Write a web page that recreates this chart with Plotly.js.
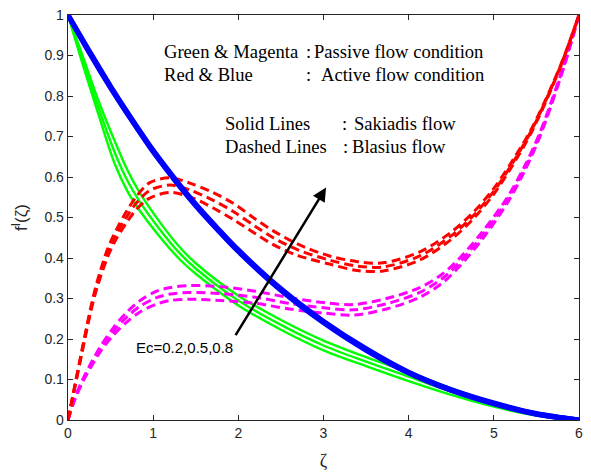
<!DOCTYPE html>
<html>
<head>
<meta charset="utf-8">
<script src="https://cdn.plot.ly/plotly-3.0.1.min.js"></script>
<style>html,body{margin:0;padding:0;background:#fff;}#chart{width:591px;height:473px;}</style>
</head>
<body>
<div id="chart"></div>
<script>
// ---- data ----
const zetaGreen = [0,0.17,0.36,0.55,0.7,0.84,1.08,1.31,1.5,2.0,2.5,3.0,3.5,4.0,4.5,5.0,5.5,6.0];
const green1 = [1,0.88,0.753,0.632,0.564,0.518,0.452,0.397,0.361,0.283,0.223,0.172,0.133,0.096,0.062,0.033,0.011,0];
const green2 = [1,0.89,0.77,0.66,0.59,0.54,0.47,0.412,0.374,0.295,0.235,0.184,0.144,0.107,0.07,0.038,0.013,0];
const green3 = [1,0.9,0.787,0.688,0.616,0.562,0.488,0.427,0.387,0.307,0.247,0.196,0.155,0.118,0.078,0.043,0.015,0];

const zetaBlue = [0,0.25,0.5,0.75,1,1.25,1.5,1.75,2,2.5,3,3.5,4,4.5,5,5.5,6];
const blue1 = [1,0.907,0.82,0.739,0.662,0.593,0.529,0.471,0.416,0.32,0.24,0.172,0.116,0.073,0.04,0.014,0];
const blue2 = [1,0.909,0.822,0.741,0.664,0.595,0.531,0.473,0.418,0.322,0.242,0.174,0.117,0.074,0.041,0.015,0];
const blue3 = [1,0.911,0.824,0.743,0.666,0.597,0.533,0.475,0.42,0.324,0.244,0.176,0.118,0.075,0.042,0.016,0];

const zetaRed = [0,0.056,0.194,0.27,0.34,0.47,0.566,0.684,0.8,0.96,1.2,1.43,1.7,1.94,2.2,2.41,2.7,3.07,3.4,3.7,4.13,4.5,4.76,5.0,5.23,5.46,5.78,6];
const red1 = [0,0.056,0.196,0.27,0.326,0.405,0.447,0.486,0.519,0.548,0.562,0.551,0.524,0.495,0.46,0.433,0.406,0.385,0.369,0.368,0.395,0.446,0.497,0.558,0.632,0.718,0.87,1];
const red2 = [0,0.058,0.2,0.275,0.333,0.415,0.458,0.5,0.535,0.567,0.58,0.568,0.543,0.515,0.478,0.45,0.42,0.395,0.38,0.378,0.405,0.455,0.505,0.565,0.638,0.722,0.872,1];
const red3 = [0,0.06,0.204,0.28,0.34,0.425,0.469,0.514,0.551,0.586,0.598,0.585,0.562,0.535,0.496,0.467,0.434,0.405,0.391,0.388,0.415,0.464,0.513,0.572,0.644,0.726,0.874,1];

const zetaMag = [0,0.076,0.17,0.29,0.39,0.53,0.68,0.84,1.04,1.2,1.43,1.8,2.2,2.6,3.0,3.35,3.74,4.13,4.4,4.6,4.87,5.15,5.36,5.54,5.81,6];
const mag1 = [0,0.048,0.093,0.138,0.172,0.209,0.24,0.266,0.286,0.295,0.298,0.295,0.288,0.274,0.264,0.259,0.274,0.303,0.339,0.38,0.448,0.533,0.614,0.699,0.863,1];
const mag2 = [0,0.05,0.096,0.143,0.178,0.218,0.252,0.28,0.302,0.311,0.315,0.312,0.303,0.288,0.277,0.272,0.287,0.315,0.35,0.39,0.457,0.54,0.62,0.704,0.866,1];
const mag3 = [0,0.052,0.099,0.148,0.184,0.227,0.264,0.294,0.318,0.327,0.332,0.329,0.318,0.302,0.29,0.285,0.3,0.327,0.361,0.4,0.466,0.547,0.626,0.709,0.869,1];

const xTicks = [0,1,2,3,4,5,6];
const yTicks = [0,0.1,0.2,0.3,0.4,0.5,0.6,0.7,0.8,0.9,1];
const yTickText = ['0','0.1','0.2','0.3','0.4','0.5','0.6','0.7','0.8','0.9','1'];

// ---- traces ----
function tr(x, y, color, width, dash) {
  return {x: x, y: y, type: 'scatter', mode: 'lines', hoverinfo: 'skip',
    line: {color: color, width: width, dash: dash || 'solid', shape: 'spline', smoothing: 0.9}};
}
const DASH = '9px,5px';
const data = [
  tr(zetaGreen, green1, '#00ff00', 2.4),
  tr(zetaGreen, green2, '#00ff00', 2.4),
  tr(zetaGreen, green3, '#00ff00', 2.4),
  tr(zetaMag, mag1, '#ff00ff', 3, DASH),
  tr(zetaMag, mag2, '#ff00ff', 3, DASH),
  tr(zetaMag, mag3, '#ff00ff', 3, DASH),
  tr(zetaRed, red1, '#ff0000', 3, DASH),
  tr(zetaRed, red2, '#ff0000', 3, DASH),
  tr(zetaRed, red3, '#ff0000', 3, DASH),
  tr(zetaBlue, blue1, '#0000ff', 5),
  tr(zetaBlue, blue2, '#0000ff', 5),
  tr(zetaBlue, blue3, '#0000ff', 5)
];

const SERIF = 'Liberation Serif, Times New Roman, serif';
const SANS = 'Liberation Sans, Arial, sans-serif';
const serif = {family: SERIF, size: 18.6, color: '#000'};
function txt(x, y, s) {
  return {x: x, y: y, xref: 'x', yref: 'y', text: s, showarrow: false,
    xanchor: 'left', yanchor: 'middle', font: serif};
}

const annotations = [
  txt(1.1, 0.909, 'Green &amp; Magenta'),
  txt(2.775, 0.909, ':'),
  txt(2.87, 0.909, 'Passive flow condition'),
  txt(1.1, 0.854, 'Red &amp; Blue'),
  txt(2.775, 0.854, ':'),
  txt(2.95, 0.854, 'Active flow condition'),
  txt(1.82, 0.731, 'Solid Lines'),
  txt(3.19, 0.731, ':'),
  txt(3.335, 0.731, 'Sakiadis flow'),
  txt(1.82, 0.675, 'Dashed Lines'),
  txt(3.205, 0.675, ':'),
  txt(3.31, 0.675, 'Blasius flow'),
  {x: 0.78, y: 0.178, xref: 'x', yref: 'y', text: 'Ec=0.2,0.5,0.8', showarrow: false,
    xanchor: 'left', yanchor: 'middle',
    font: {family: SANS, size: 15, color: '#000'}},
  {x: 3.03, y: 0.574, ax: 1.957, ay: 0.206, xref: 'x', yref: 'y', axref: 'x', ayref: 'y',
    text: '', showarrow: true, arrowhead: 2, arrowsize: 1.1, arrowwidth: 2.5, arrowcolor: '#000',
    standoff: 0, startstandoff: 0}
];

const axisCommon = {
  showgrid: false, zeroline: false, showline: true, linecolor: '#262626', linewidth: 1.3,
  mirror: 'ticks', ticks: 'inside', ticklen: 5, tickwidth: 1, tickcolor: '#262626',
  tickfont: {family: SANS, size: 14, color: '#262626'}
};

const layout = {
  width: 591, height: 473,
  margin: {l: 68, r: 12, t: 15, b: 53},
  paper_bgcolor: '#fff', plot_bgcolor: '#fff',
  showlegend: false,
  xaxis: Object.assign({}, axisCommon, {
    range: [0, 6], tickvals: xTicks, ticktext: xTicks.map(String),
    title: {text: 'ζ', standoff: 14,
      font: {family: SERIF, size: 18, color: '#262626'}}
  }),
  yaxis: Object.assign({}, axisCommon, {
    range: [0, 1], tickvals: yTicks, ticktext: yTickText,
    title: {text: 'f<sup>I</sup>(ζ)', standoff: 12,
      font: {family: SANS, size: 17, color: '#262626'}}
  }),
  annotations: annotations
};

Plotly.newPlot('chart', data, layout, {staticPlot: true, displayModeBar: false});
</script>
</body>
</html>
